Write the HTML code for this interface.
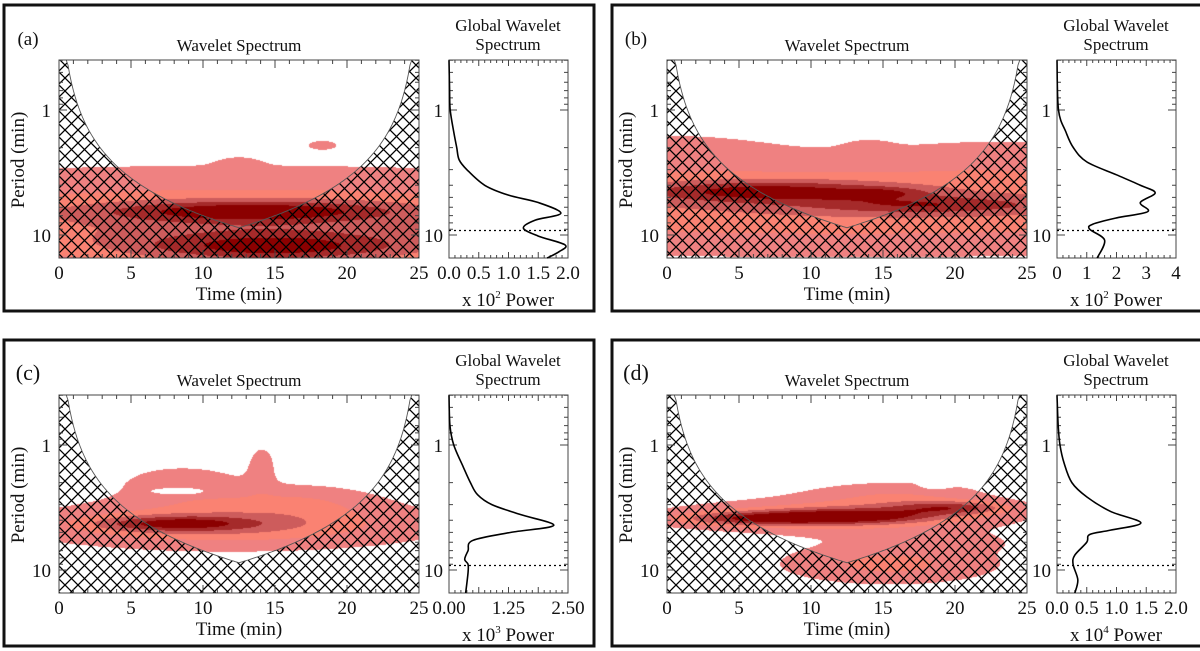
<!DOCTYPE html>
<html><head><meta charset="utf-8">
<style>
html,body{margin:0;padding:0;background:#fff;}
#wrap{position:relative;width:1200px;height:651px;overflow:hidden;}
canvas{position:absolute;}
svg{position:absolute;left:0;top:0;}
text{font-family:"Liberation Serif",serif;fill:#111;}
</style></head>
<body>
<div id="wrap">
<svg id="svg" width="1200" height="651">
<defs>
<pattern id="hatch" patternUnits="userSpaceOnUse" width="13" height="13">
<path d="M0,0 L13,13 M13,0 L0,13" stroke="#000" stroke-width="1.3"/>
</pattern>
</defs>
</svg>
</div>
<script>
// ---- Global wavelet spectrum data (period in min, power in displayed units) ----
const periods_a=[0.4,0.7,1,1.5,2,2.5,3,4,4.8,5.5,6.7,7.6,8.8,10.2,12,13.6,15.3];
const power_a  =[0,0.01,0.02,0.08,0.13,0.17,0.3,0.6,1.0,1.5,1.88,1.45,1.25,1.5,1.95,1.85,1.65];
const periods_b=[0.4,1,1.5,2,2.6,3.3,4.0,4.6,5.5,6.5,7.3,8.2,9,11,15.3];
const power_b  =[0,0.05,0.3,0.55,1.0,2.0,2.8,3.3,2.8,3.05,2.0,1.2,1.1,1.6,1.35];
const periods_c=[0.4,0.7,1,1.5,2,2.5,3,3.6,4.4,5,5.8,7,8.2,9,10.5,15.3];
const power_c  =[0,0.02,0.1,0.3,0.45,0.6,0.9,1.5,2.2,1.3,0.5,0.4,0.33,0.4,0.4,0.35];
const periods_d=[0.4,0.7,1,1.4,2,2.6,3.4,4.2,4.8,5.2,6,7.6,9,12,15.3];
const power_d  =[0,0.02,0.05,0.12,0.25,0.5,0.9,1.41,0.9,0.55,0.5,0.3,0.27,0.35,0.3];
// ---- Wavelet power blobs: [time(min), log10 period, sigmaT, sigmaLogP, amplitude] ----
const blobs_a=[[12.5,0.9,30,0.32,0.55],[13.5,0.81,7,0.06,0.5],[15,1.1,7,0.09,0.5],[18.3,0.28,0.7,0.025,0.3],[12.5,0.45,1,0.05,0.15]];
const blobs_b=[[12.5,0.75,40,0.3,0.55],[0,0.3,5,0.1,0.15],[23,0.35,5,0.1,0.1],[14,0.3,1.2,0.05,0.12],[7,0.65,6,0.06,0.45],[15,0.66,2,0.03,0.2],[18,0.76,6,0.05,0.3]];
const blobs_c=[[12,0.64,11,0.15,0.55],[8,0.63,4,0.045,0.45],[8.5,0.3,3.5,0.12,0.3],[17,0.42,4,0.1,0.22],[14.1,0.15,0.7,0.12,0.3],[8.5,0.37,1.5,0.025,-0.3]];
const blobs_d=[[12,0.57,9,0.1,0.55],[6,0.59,4,0.04,0.45],[13,0.57,4,0.04,0.45],[20,0.5,3,0.04,0.45],[16,0.38,5,0.08,0.3],[15.5,0.95,6,0.13,0.45],[21,0.78,2,0.05,0.2],[18.6,0.32,0.6,0.02,-0.35]];
const levelThresholds=[0.2,0.4,0.55,0.7,0.85];
const levelColors=['#ef8181','#fa8272','#cd5c5c','#a52a2a','#8b0000'];
const xTickLabels=['0','5','10','15','20','25'];

const panels=[
 {id:'a',ox:0,oy:0,per:periods_a,pow:power_a,blobs:blobs_a,gmax:2,glab:['0.0','0.5','1.0','1.5','2.0'],exp:'2'},
 {id:'b',ox:608,oy:0,per:periods_b,pow:power_b,blobs:blobs_b,gmax:4,glab:['0','1','2','3','4'],exp:'2'},
 {id:'c',ox:0,oy:335,per:periods_c,pow:power_c,blobs:blobs_c,gmax:2.5,glab:['0.00','1.25','2.50'],exp:'3'},
 {id:'d',ox:608,oy:335,per:periods_d,pow:power_d,blobs:blobs_d,gmax:2,glab:['0.0','0.5','1.0','1.5','2.0'],exp:'4'}
];
const NS='http://www.w3.org/2000/svg';
const svg=document.getElementById('svg');
const wrap=document.getElementById('wrap');
const PL=59,PR=419,PT=60,PB=258,Y1=110,DEC=125,GL=449,GR=568,COIK=0.7,TMAX=25;
function el(tag,attrs,parent){const e=document.createElementNS(NS,tag);for(const k in attrs)e.setAttribute(k,attrs[k]);(parent||svg).appendChild(e);return e;}
function txt(s,x,y,size,anchor,parent){const t=el('text',{x:x,y:y,'font-size':size,'text-anchor':anchor||'middle'},parent);t.textContent=s;return t;}

panels.forEach(P=>{
 const ox=P.ox,oy=P.oy;
 const xT=t=>ox+PL+(t/TMAX)*(PR-PL);
 const yP=p=>oy+Y1+DEC*Math.log10(p);
 const g=el('g',{});
 
 
 const fr=el('rect',{x:ox+4,y:oy+5,width:590,height:306,fill:'none',stroke:'#111','stroke-width':3},g);
 
 
 const lab=txt('('+P.id+')',ox+28,oy+45,P.oy?22:19,'middle',g);
 
 
 const W=PR-PL,H=PB-PT;
 const cv=document.createElement('canvas');cv.width=W;cv.height=H;
 cv.style.left=(ox+PL)+'px';cv.style.top=(oy+PT)+'px';
 
 
 wrap.insertBefore(cv,svg);
 const ctx=cv.getContext('2d');
 for(let j=0;j<H;j++){
  const lp=(PT+j+0.5-Y1)/DEC;
  for(let i=0;i<W;i++){
   const t=(i+0.5)/W*TMAX;let f=0;
   for(const b of P.blobs){const u=(t-b[0])/b[2],v=(lp-b[1])/b[3];f+=b[4]*Math.exp(-0.5*(u*u+v*v));}
   let L=-1;for(let k=0;k<levelThresholds.length;k++)if(f>=levelThresholds[k])L=k;
   if(L>=0){ctx.fillStyle=levelColors[L];ctx.fillRect(i,j,1,1);}
  }
 }
 const pts=[];
 for(let i=0;i<=200;i++){const t=i/200*TMAX;const p=Math.max(COIK*Math.min(t,TMAX-t),0.001);let y=yP(p);y=Math.max(y,oy+PT);pts.push([xT(t),y]);}
 let d='M'+(ox+PL)+','+(oy+PT)+' L'+(ox+PL)+','+(oy+PB)+' L'+(ox+PR)+','+(oy+PB)+' L'+(ox+PR)+','+(oy+PT);
 for(let i=pts.length-1;i>=0;i--)d+=' L'+pts[i][0].toFixed(1)+','+pts[i][1].toFixed(1);
 d+='Z';
 const cid='clip'+P.id;
 const cp=el('clipPath',{id:cid},g);el('rect',{x:ox+PL,y:oy+PT,width:W,height:H},cp);
 const h=el('path',{d:d,fill:'url(#hatch)','clip-path':'url(#'+cid+')'},g);
 
 
 const cl=el('polyline',{points:pts.map(p=>p[0].toFixed(1)+','+p[1].toFixed(1)).join(' '),fill:'none',stroke:'#555','stroke-width':0.9,'clip-path':'url(#'+cid+')'},g);
 
 
 const ax=el('rect',{x:ox+PL,y:oy+PT,width:W,height:H,fill:'none',stroke:'#444','stroke-width':1},g);
 
 
 let tk='';
 for(let t=0;t<=25;t++){const x=xT(t),L=t%5==0?8:4;tk+=`M${x},${oy+PT}v${L}M${x},${oy+PB}v${-L}`;}
 const yt=[0.4,0.5,0.6,0.7,0.8,0.9,1,2,3,4,5,6,7,8,9,10];
 yt.forEach(p=>{const y=yP(p),L=(p==1||p==10)?8:4;tk+=`M${ox+PL},${y}h${L}M${ox+PR},${y}h${-L}`;tk+=`M${ox+GL},${y}h${L}M${ox+GR},${y}h${-L}`;});
 for(let k=0;k<=20;k++){const x=ox+GL+k/20*(GR-GL),L=k%5==0?6:3;tk+=`M${x},${oy+PT}v${L}M${x},${oy+PB}v${-L}`;}
 el('path',{d:tk,stroke:'#444','stroke-width':1,fill:'none'},g);
 xTickLabels.forEach((s,i)=>{const tl=txt(s,xT(i*5),oy+279,19,'middle',g);});
 [['1',1],['10',10]].forEach(a=>{txt(a[0],ox+51,yP(a[1])+7,19,'end',g);txt(a[0],ox+443,yP(a[1])+7,19,'end',g);});
 const tt=txt('Wavelet Spectrum',ox+239,oy+51,17,'middle',g);
 
 const xl=txt('Time (min)',ox+239,oy+300,19,'middle',g);
 
 const yl=el('text',{x:0,y:0,'font-size':19,'text-anchor':'middle',transform:`translate(${ox+24},${oy+160}) rotate(-90)`},g);yl.textContent='Period (min)';
 
 const gt1=txt('Global Wavelet',ox+508,oy+31,17,'middle',g);
 
 txt('Spectrum',ox+508,oy+50,17,'middle',g);
 const gb=el('rect',{x:ox+GL,y:oy+PT,width:GR-GL,height:H,fill:'none',stroke:'#444','stroke-width':1},g);
 
 const gx=v=>ox+GL+v/P.gmax*(GR-GL);
 P.glab.forEach((s,i)=>{const v=i/(P.glab.length-1)*P.gmax;const l=txt(s,gx(v),oy+279,19,'middle',g);});
 const pl=el('text',{x:ox+508,y:oy+306,'font-size':19,'text-anchor':'middle'},g);
 pl.innerHTML='x 10<tspan font-size="11" dy="-8">'+P.exp+'</tspan><tspan dy="8"> Power</tspan>';
 
 const gp=P.per.map((p,i)=>[gx(P.pow[i]),Math.min(Math.max(yP(p),oy+PT),oy+PB)]);
 let gd='M'+gp[0][0]+','+gp[0][1];
 for(let i=0;i<gp.length-1;i++){const p0=gp[Math.max(i-1,0)],p1=gp[i],p2=gp[i+1],p3=gp[Math.min(i+2,gp.length-1)];
  gd+=` C${p1[0]+(p2[0]-p0[0])/6},${p1[1]+(p2[1]-p0[1])/6} ${p2[0]-(p3[0]-p1[0])/6},${p2[1]-(p3[1]-p1[1])/6} ${p2[0]},${p2[1]}`;}
 const gl=el('path',{d:gd,fill:'none',stroke:'#000','stroke-width':1.6},g);
 
 const dl=el('line',{x1:ox+GL,x2:ox+GR,y1:yP(9.2),y2:yP(9.2),stroke:'#000','stroke-width':1.2,'stroke-dasharray':'2,3'},g);
 
});
</script>
</body></html>
